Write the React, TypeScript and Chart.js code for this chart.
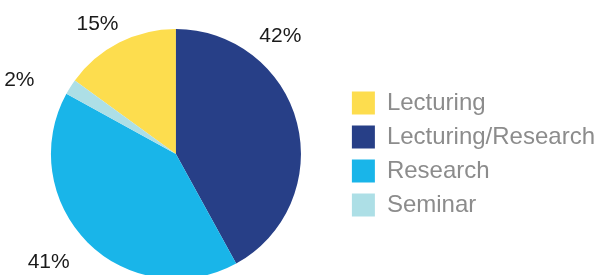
import React, { useEffect, useRef } from "react";
import { Chart, registerables } from "chart.js";

Chart.register(...registerables);

const categories = ["Lecturing", "Lecturing/Research", "Research", "Seminar"];
const shares = [15, 42, 41, 2];
const colors = ["#FDDD4E", "#273F87", "#19B5E9", "#ADDFE6"];
// label placement relative to each slice: angle offset (deg) and gap beyond the rim (px)
const labelAngleOffset = [-4.2, -34.1, 4.7, -7.2];
const labelGap = [26.4, 32.6, 41.9, 48.1];

const percentLabels = {
  id: "percentLabels",
  afterDatasetsDraw(chart: any) {
    const meta = chart.getDatasetMeta(0);
    const data = chart.data.datasets[0].data as number[];
    const total = data.reduce((a, b) => a + b, 0);
    const ctx = chart.ctx;
    ctx.save();
    ctx.font = "21px 'Liberation Sans', Arial, sans-serif";
    ctx.fillStyle = "#1a1a1a";
    ctx.textAlign = "center";
    ctx.textBaseline = "middle";
    meta.data.forEach((arc: any, i: number) => {
      const p = arc.getProps(["x", "y", "startAngle", "endAngle", "outerRadius"], true);
      const mid = (p.startAngle + p.endAngle) / 2 + (labelAngleOffset[i] * Math.PI) / 180;
      const d = p.outerRadius + labelGap[i];
      const x = p.x + Math.cos(mid) * d;
      const y = p.y + Math.sin(mid) * d;
      ctx.fillText(Math.round((data[i] / total) * 100) + "%", x, y);
    });
    ctx.restore();
  },
};

export default function App() {
  const ref = useRef<HTMLCanvasElement | null>(null);
  useEffect(() => {
    if (!ref.current) return;
    const total = shares.reduce((a, b) => a + b, 0);
    const chart = new Chart(ref.current, {
      type: "pie",
      data: {
        labels: categories,
        datasets: [
          {
            data: shares,
            backgroundColor: colors,
            borderWidth: 0,
            radius: 125,
          },
        ],
      },
      options: {
        animation: false,
        responsive: true,
        maintainAspectRatio: false,
        rotation: -(shares[0] / total) * 360,
        layout: { padding: { left: 10, right: 2, top: 28, bottom: 10 } },
        plugins: {
          tooltip: { enabled: false },
          legend: {
            position: "right",
            labels: {
              boxWidth: 23,
              boxHeight: 23,
              padding: 10,
              color: "#8c8c8c",
              font: { size: 24, family: "'Liberation Sans', Arial, sans-serif" },
            },
          },
        },
      },
      plugins: [percentLabels],
    });
    return () => chart.destroy();
  }, []);
  return (
    <div style={{ position: "fixed", left: 0, top: 0, width: 607, height: 290, background: "#fff" }}>
      <canvas ref={ref} />
    </div>
  );
}
